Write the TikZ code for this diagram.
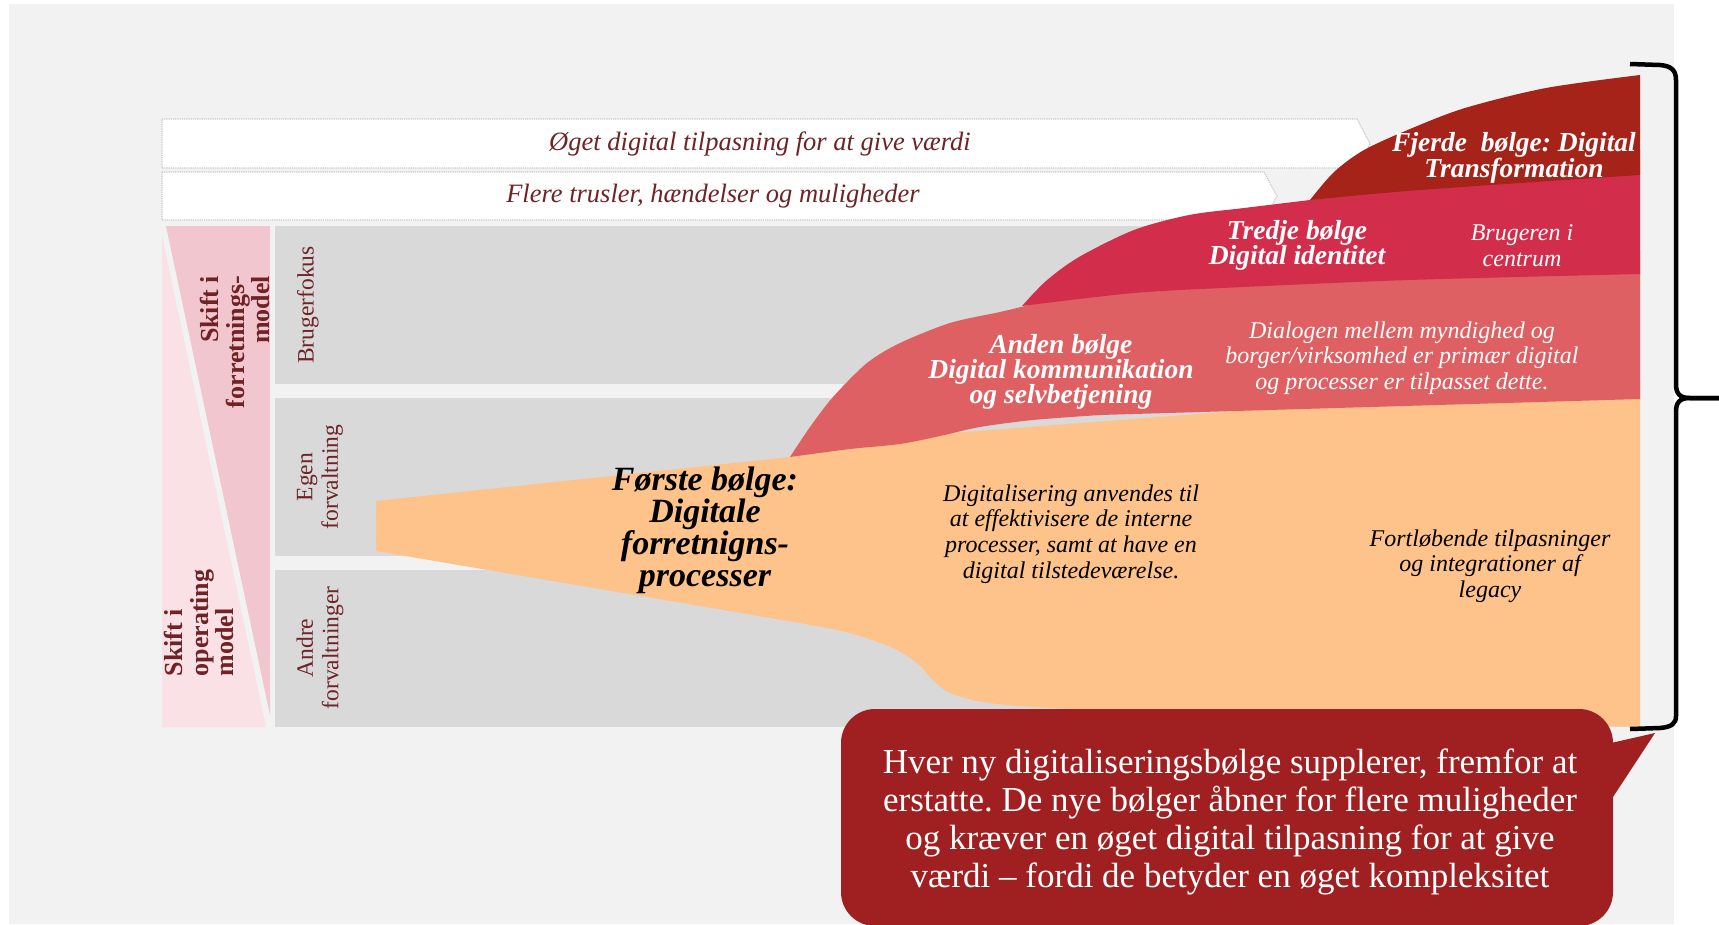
\documentclass[tikz,border=0pt]{standalone}
\usepackage{fontspec}
\setmainfont{Liberation Serif}
\usetikzlibrary{positioning}
\frenchspacing

\definecolor{bggray}{RGB}{242,242,242}
\definecolor{panelgray}{RGB}{217,217,217}
\definecolor{bandline}{RGB}{200,200,200}
\definecolor{textmaroon}{RGB}{110,35,38}
\definecolor{lightpink}{RGB}{249,225,229}
\definecolor{darkpink}{RGB}{242,198,206}
\definecolor{firstwave}{RGB}{254,194,139}
\definecolor{secondwave}{RGB}{223,96,98}
\definecolor{thirdwave}{RGB}{210,46,76}
\definecolor{fourthwave}{RGB}{166,35,25}
\definecolor{calloutred}{RGB}{160,31,33}

\begin{document}
\begin{tikzpicture}[x = 1pt, y = -1pt,
        band/.style = {draw=bandline, densely dotted, line width=1.2pt, fill=white},
        bandtext/.style = {inner sep=0, text=textmaroon, font=\fontsize{26.5}{30}\selectfont\itshape},
        sidehead/.style = {inner sep=0, rotate=90, text=textmaroon, font=\fontsize{26}{25.5}\selectfont\bfseries},
        sidelabel/.style = {inner sep=0, rotate=90, align=center, text=textmaroon, font=\fontsize{23.5}{25.5}\selectfont},
        wavetitle/.style = {inner sep=0, align=center, text=white, font=\fontsize{27.5}{25}\selectfont\bfseries\itshape},
        wavenote/.style = {inner sep=0, align=center, text=white, font=\fontsize{24}{25.7}\selectfont\itshape}]
        \useasboundingbox (0,0) rectangle (1719,924);
        \fill[white] (0,0) rectangle (1719,924);
        \fill[bggray] (9,4) rectangle (1674,924);

        \draw[band] (162,119) -- (1357,119) -- (1370,143.5) -- (1357,168) -- (162,168) -- cycle;
        \draw[band] (162,172) -- (1264,172) -- (1277,196) -- (1264,220) -- (162,220) -- cycle;
        \node[bandtext] (oget) at (760,143.5) {Øget digital tilpasning for at give værdi};
        \node[bandtext] (flere) at (713,196) {Flere trusler, hændelser og muligheder};

        \fill[lightpink] (162,236) -- (266,727) -- (162,727) -- cycle;
        \fill[darkpink] (166,226) -- (270,226) -- (270,715) -- cycle;
        \foreach \ya/\yb in {226/384, 398/556, 570/727}
            \fill[panelgray] (275,\ya) rectangle (1640,\yb);

        % waves, back to front
        \fill[firstwave] (376,501) -- (790,457) -- (860,440) -- (1640,380) -- (1640,727) -- (1150,712)
            -- plot[smooth] coordinates {(1150,712) (1033,707) (983,702) (950,693) (933,680) (917,663) (893,648) (850,633) (800,623)}
            -- (376,551) -- cycle;
        \fill[secondwave] plot[smooth] coordinates {(790,457) (810,427) (833,397) (867,363) (900,343) (950,323) (1000,312) (1025,306)}
            -- (1060,296) -- (1640,250) -- (1640,399) -- (1100,415)
            -- plot[smooth] coordinates {(1100,415) (1033,420) (980,427) (940,436) (900,444) (850,449) (790,457)} -- cycle;
        \fill[thirdwave] plot[smooth] coordinates {(1022,306) (1046,281) (1079,257) (1134,230) (1189,215) (1244,208) (1310,200)}
            -- (1400,180) -- (1640,150) -- (1640,274)
            -- plot[smooth] coordinates {(1640,274) (1409,280) (1244,287) (1134,293) (1022,306)} -- cycle;
        \fill[fourthwave] plot[smooth] coordinates {(1310,200) (1334,172) (1364,150) (1410,129) (1465,108) (1546,88) (1640,75)}
            -- (1640,175) -- plot[smooth] coordinates {(1640,175) (1420,190) (1310,200)} -- cycle;

        \draw[line width=4.5pt] (1630,64) -- (1660,65) .. controls (1671,66) and (1676,70) .. (1676,80) -- (1676,384)
            .. controls (1676,393) and (1679,398) .. (1690,398) -- (1725,398);
        \draw[line width=4.5pt] (1725,398) -- (1690,398) .. controls (1679,398) and (1676,403) .. (1676,412) -- (1676,716)
            .. controls (1676,724) and (1671,727) .. (1660,728) -- (1630,729);

        \fill[calloutred, rounded corners=34pt] (841,709) rectangle (1613,926);
        \fill[calloutred] (1611,743) -- (1655,733) -- (1611,800) -- cycle;

        \node[sidehead, align=right] (skiftforr) at (235,342) {Skift i\\forretnings-\\model};
        \node[sidehead, align=left] (skiftop) at (199,623) {Skift i\\operating\\model};
        \node[sidelabel] (brugerfokus) at (308,305) {Brugerfokus};
        \node[sidelabel] (egen) at (320,477) {Egen\\forvaltning};
        \node[sidelabel] (andre) at (320,648) {Andre\\forvaltninger};

        \node[wavetitle] (fjerde) at (1514,157.5) {Fjerde\ \ bølge: Digital\\Transformation};
        \node[wavetitle] (tredje) at (1297,245) {Tredje bølge\\Digital identitet};
        \node[wavenote] (brugeren) at (1522,246) {Brugeren i\\centrum};
        \node[wavetitle] (anden) at (1061,372) {Anden bølge\\Digital kommunikation\\og selvbetjening};
        \node[wavenote] (dialogen) at (1402,358) {Dialogen mellem myndighed og\\borger/virksomhed er primær digital\\og processer er tilpasset dette.};
        \node[wavetitle, text=black, font=\fontsize{34}{32}\selectfont\bfseries\itshape] (forste) at (705,530) {Første bølge:\\Digitale\\forretnigns-\\processer};
        \node[wavenote, text=black] (digitalisering) at (1071,534) {Digitalisering anvendes til\\at effektivisere de interne\\processer, samt at have en\\digital tilstedeværelse.};
        \node[wavenote, text=black] (fortlobende) at (1490,566) {Fortløbende tilpasninger\\og integrationer af\\legacy};

        \node[inner sep=0, align=center, text=white, font=\fontsize{35}{38.2}\selectfont] (hver) at (1230,822)
            {Hver ny digitaliseringsbølge supplerer, fremfor at\\erstatte. De nye bølger åbner for flere muligheder\\og kræver en øget digital tilpasning for at give\\værdi – fordi de betyder en øget kompleksitet};
\end{tikzpicture}
\end{document}
